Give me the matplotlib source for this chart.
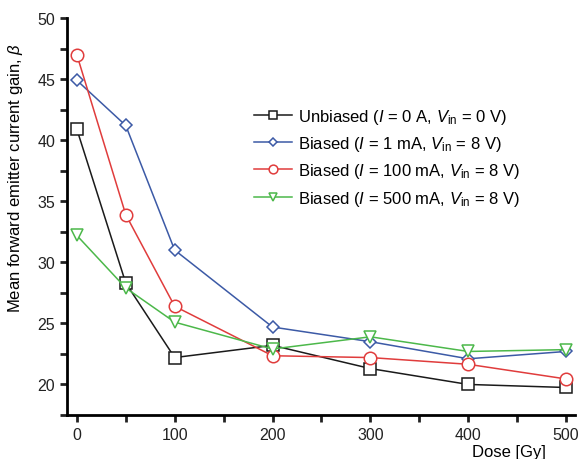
import matplotlib
matplotlib.use("Agg")
import matplotlib.pyplot as plt
from matplotlib.ticker import MultipleLocator

plt.rcParams['font.family'] = ['Liberation Sans', 'DejaVu Sans']
plt.rcParams['mathtext.fontset'] = 'custom'
plt.rcParams['mathtext.rm'] = 'Liberation Sans'
plt.rcParams['mathtext.it'] = 'Liberation Sans:italic'
plt.rcParams['mathtext.bf'] = 'Liberation Sans:bold'

dose = [0, 50, 100, 200, 300, 400, 500]
unbiased = [40.9, 28.3, 22.2, 23.2, 21.3, 20.0, 19.75]
biased_1mA = [44.9, 41.2, 31.0, 24.7, 23.5, 22.1, 22.7]
biased_100mA = [47.0, 33.9, 26.4, 22.35, 22.2, 21.65, 20.45]
biased_500mA = [32.2, 27.9, 25.1, 22.9, 23.9, 22.7, 22.85]

labels = [
    r"Unbiased ($I$ = 0 A, $V_{\mathrm{in}}$ = 0 V)",
    r"Biased ($I$ = 1 mA, $V_{\mathrm{in}}$ = 8 V)",
    r"Biased ($I$ = 100 mA, $V_{\mathrm{in}}$ = 8 V)",
    r"Biased ($I$ = 500 mA, $V_{\mathrm{in}}$ = 8 V)",
]
series = [unbiased, biased_1mA, biased_100mA, biased_500mA]
colors = ['#1a1a1a', '#3c5aa6', '#e03c3c', '#4cb84a']
markers = ['s', 'D', 'o', 'v']
msizes = [8, 6.5, 9, 8]

fig = plt.figure(figsize=(5.83, 4.60), dpi=100)
ax = fig.add_axes([0.115, 0.0957, 0.871, 0.863])

for y, c, m, ms, lab in zip(series, colors, markers, msizes, labels):
    ax.plot(dose, y, color=c, marker=m, markersize=ms,
            markerfacecolor='white', markeredgecolor=c, markeredgewidth=1.1,
            linewidth=1.1, label=lab)

ax.set_xlim(-10, 509)
ax.set_ylim(17.5, 50)
ax.xaxis.set_major_locator(MultipleLocator(100))
ax.xaxis.set_minor_locator(MultipleLocator(50))
ax.yaxis.set_major_locator(MultipleLocator(5))
ax.yaxis.set_minor_locator(MultipleLocator(2.5))
for s in ['top', 'right']:
    ax.spines[s].set_visible(False)
for s in ['left', 'bottom']:
    ax.spines[s].set_linewidth(2)
ax.tick_params(which='both', direction='out', width=2, length=5, labelsize=11.5, colors='#222222')
ax.tick_params(which='minor', labelbottom=False)

ax.set_ylabel(r"Mean forward emitter current gain, $\beta$", fontsize=12)
ax.yaxis.set_label_coords(-0.083, 0.60)
ax.set_xlabel("Dose [Gy]", fontsize=12)
ax.xaxis.set_label_coords(0.87, -0.072)

leg = ax.legend(loc='upper left', bbox_to_anchor=(0.368, 0.777), frameon=False,
                fontsize=12, handlelength=2.3, handletextpad=0.35, labelspacing=0.5,
                borderpad=0, borderaxespad=0, markerscale=0.7)

fig.savefig("out.png", dpi=100)
